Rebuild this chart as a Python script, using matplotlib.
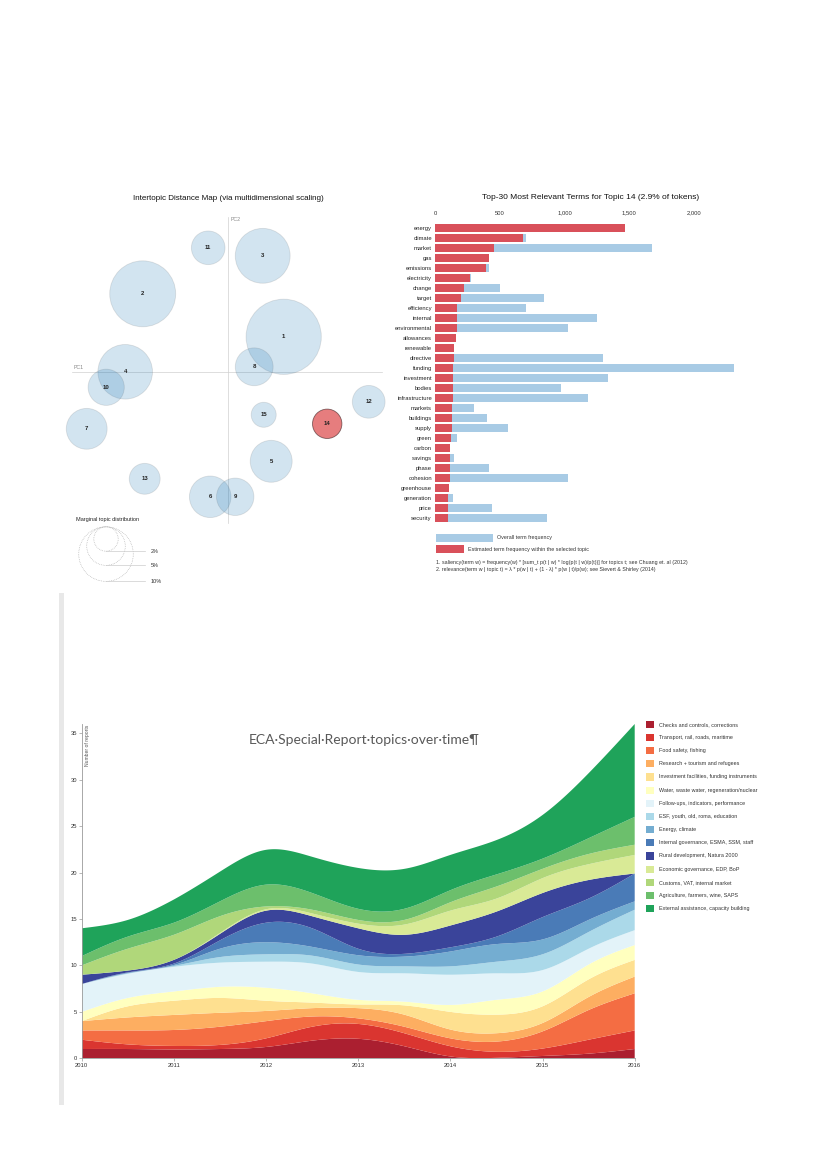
import numpy as np
import matplotlib
matplotlib.use("Agg")
import matplotlib.pyplot as plt
from matplotlib.patches import Circle, Rectangle

# ---------------- data: intertopic distance map ----------------
topic_ids = list(range(1, 16))
pc1 = [0.112, -0.170, 0.070, -0.205, 0.087, -0.035, -0.282, 0.053, 0.015, -0.243, -0.039, 0.282, -0.166, 0.199, 0.072]
pc2 = [0.071, 0.157, 0.233, 0.001, -0.178, -0.249, -0.113, 0.011, -0.249, -0.030, 0.249, -0.059, -0.213, -0.103, -0.085]
topic_share = [19.0, 14.6, 10.1, 10.0, 5.9, 5.8, 5.6, 4.8, 4.7, 4.4, 3.8, 3.6, 3.2, 2.9, 2.1]
selected_topic = 14
legend_shares = [2, 5, 10]

# ---------------- data: top-30 terms ----------------
terms = ['energy', 'climate', 'market', 'gas', 'emissions', 'electricity', 'change', 'target',
         'efficiency', 'internal', 'environmental', 'allowances', 'renewable', 'directive',
         'funding', 'investment', 'bodies', 'infrastructure', 'markets', 'buildings', 'supply',
         'green', 'carbon', 'savings', 'phase', 'cohesion', 'greenhouse', 'generation', 'price',
         'security']
overall_freq = [1470, 702, 1674, 418, 418, 281, 502, 843, 705, 1251, 1025, 159, 149, 1300,
                2307, 1333, 971, 1184, 305, 405, 567, 172, 118, 149, 420, 1025, 105, 138, 441, 864]
topic_freq = [1467, 677, 454, 415, 397, 274, 226, 203, 172, 172, 167, 159, 149, 144,
              138, 138, 136, 136, 128, 128, 128, 126, 118, 115, 113, 113, 105, 100, 97, 97]
bar_ticks = [0, 500, 1000, 1500, 2000]
bar_tick_labels = ['0', '500', '1,000', '1,500', '2,000']

# ---------------- data: topics over time ----------------
years = [2010, 2010.5, 2011, 2011.5, 2012, 2012.5, 2013, 2013.5, 2014, 2014.5, 2015, 2015.5, 2016]
checks     = [1.0, 1.0, 0.95, 1.0, 1.22, 1.9, 2.1, 1.3, 0.2, 0.05, 0.25, 0.5, 1.0]
transport  = [1.0, 0.5, 0.38, 0.44, 0.93, 1.5, 1.6, 1.4, 1.1, 0.65, 0.8, 1.5, 2.0]
food       = [1.0, 1.5, 1.72, 1.96, 1.85, 1.1, 0.6, 0.7, 0.85, 1.1, 1.85, 3.2, 4.0]
research   = [1.0, 1.4, 1.62, 1.5, 1.1, 0.9, 1.1, 1.3, 0.95, 0.9, 0.9, 1.4, 1.8]
investment = [0.0, 1.2, 1.53, 1.6, 1.1, 0.6, 0.4, 1.0, 1.9, 2.0, 1.8, 1.9, 1.8]
water      = [1.0, 0.9, 1.0, 1.2, 1.4, 1.0, 0.5, 0.4, 0.75, 1.6, 1.6, 1.6, 1.6]
followups  = [3.0, 2.6, 2.65, 2.6, 2.8, 3.2, 3.0, 3.05, 3.25, 2.85, 2.3, 1.7, 1.6]
esf        = [0.0, 0.05, 0.1, 0.6, 0.8, 0.85, 0.8, 0.75, 0.9, 1.25, 1.7, 1.8, 2.2]
energy     = [0.0, 0.05, 0.1, 0.9, 1.3, 0.95, 1.0, 1.05, 1.6, 1.9, 1.6, 1.3, 0.9]
internal   = [0.0, 0.05, 0.15, 0.9, 2.1, 2.0, 0.7, 0.3, 0.45, 0.8, 2.4, 2.3, 3.0]
rural      = [1.0, 0.2, 0.4, 0.7, 1.3, 1.3, 2.2, 2.05, 2.35, 2.7, 2.6, 2.0, 0.0]
economic   = [0.0, 0.0, 0.0, 0.1, 0.15, 0.3, 0.5, 1.1, 1.6, 1.4, 1.6, 1.7, 2.0]
customs    = [1.0, 2.35, 2.7, 1.8, 0.3, 0.4, 0.4, 0.5, 0.9, 1.3, 1.0, 1.1, 1.1]
agriculture= [1.0, 1.3, 1.3, 1.6, 2.35, 1.8, 1.2, 1.2, 1.3, 1.3, 1.1, 1.7, 3.0]
external   = [3.0, 1.8, 2.5, 3.2, 3.75, 3.9, 4.4, 4.3, 3.8, 3.7, 4.7, 7.0, 10.0]
series = [checks, transport, food, research, investment, water, followups, esf, energy,
          internal, rural, economic, customs, agriculture, external]
series_names = ['Checks and controls, corrections', 'Transport, rail, roads, maritime',
                'Food safety, fishing', 'Research + tourism and refugees',
                'Investment facilities, funding instruments',
                'Water, waste water, regeneration/nuclear', 'Follow-ups, indicators, performance',
                'ESF, youth, old, roma, education', 'Energy, climate',
                'Internal governance, ESMA, SSM, staff', 'Rural development, Natura 2000',
                'Economic governance, EDP, BoP', 'Customs, VAT, internal market',
                'Agriculture, farmers, wine, SAPS', 'External assistance, capacity building']
series_colors = ['#ab1f30', '#da3530', '#f46d43', '#fdae61', '#fee090', '#ffffbf', '#e3f3f9',
                 '#abd9e9', '#74add1', '#4a7bb7', '#3a449a', '#d9ea96', '#b0d77a', '#6cbf6c',
                 '#1fa35a']

W, H = 827, 1169
fig = plt.figure(figsize=(W / 100, H / 100), dpi=100)
fig.patch.set_facecolor('white')
FONT = ['Liberation Sans', 'DejaVu Sans']


def add_ax(x0, y0, x1, y1):
    return fig.add_axes([x0 / W, 1 - y1 / H, (x1 - x0) / W, (y1 - y0) / H])


def rect_px(x0, y0, x1, y1, color):
    fig.add_artist(Rectangle((x0 / W, 1 - y1 / H), (x1 - x0) / W, (y1 - y0) / H,
                             transform=fig.transFigure, facecolor=color, edgecolor='none'))


def ftext(x, y, s, **kw):
    kw.setdefault('family', FONT)
    fig.text(x / W, 1 - y / H, s, **kw)


# ================= Intertopic distance map =================
axb = add_ax(62, 212, 392, 595)
axb.set_xlim(-0.3314, 0.3286)
axb.set_ylim(-0.4454, 0.3206)
axb.axis('off')
k_r = 0.01726
axb.plot([-0.311, 0.309], [0, 0], color='#d0d0d0', lw=0.5, zorder=0)
axb.plot([0, 0], [-0.301, 0.311], color='#d0d0d0', lw=0.5, zorder=0)
axb.text(-0.309, 0.004, 'PC1', fontsize=3.8, color='#888', ha='left', va='bottom', family=FONT)
axb.text(0.006, 0.306, 'PC2', fontsize=3.8, color='#888', ha='left', va='center', family=FONT)
for tid, x, y, s in zip(topic_ids, pc1, pc2, topic_share):
    r = k_r * np.sqrt(s)
    if tid == selected_topic:
        fc, ec = (0.84, 0.15, 0.16, 0.6), (0.2, 0.1, 0.1, 0.6)
    else:
        fc, ec = (0.12, 0.47, 0.71, 0.2), (0.3, 0.3, 0.3, 0.15)
    axb.add_patch(Circle((x, y), r, facecolor=fc, edgecolor=ec, lw=0.6))
    axb.text(x, y, str(tid), ha='center', va='center', fontsize=4.3, fontweight='bold',
             color='#222', family=FONT)
# legend of circle sizes
axb.text(-0.3034, -0.2954, 'Marginal topic distribution', fontsize=4.0, color='#222',
         ha='left', va='center', family=FONT)
cx, top = -0.2434, -0.309
for s in legend_shares:
    r = k_r * np.sqrt(s)
    axb.add_patch(Circle((cx, top - r), r, fill=False, edgecolor='#aaaaaa', lw=0.5,
                         linestyle=(0, (1, 1.5))))
    axb.plot([cx, -0.1654], [top - 2 * r, top - 2 * r], color='#cccccc', lw=0.5)
    axb.text(-0.1534, top - 2 * r, f'{s}%', fontsize=4.0, color='#333', ha='left',
             va='center', family=FONT)

ftext(228, 198.3, 'Intertopic Distance Map (via multidimensional scaling)', ha='center',
      va='center', fontsize=5.8, color='#111')

# ================= Top-30 terms bar chart =================
axr = add_ax(435, 222.7, 745.8, 522.7)
ypos = np.arange(len(terms))
axr.barh(ypos, overall_freq, height=0.8, color='#a8cbe5')
axr.barh(ypos, topic_freq, height=0.8, color='#d9505a')
axr.set_xlim(0, 2400)
axr.set_ylim(len(terms) - 0.5, -0.5)
for sp in axr.spines.values():
    sp.set_visible(False)
axr.xaxis.tick_top()
axr.set_xticks(bar_ticks)
axr.set_xticklabels(bar_tick_labels, fontsize=4.2, color='#333', family=FONT)
axr.set_yticks(ypos)
axr.set_yticklabels(terms, fontsize=4.2, color='#222', family=FONT)
axr.tick_params(axis='x', length=0, pad=5)
axr.tick_params(axis='y', length=0, pad=2.2)

ftext(590.5, 197.3, 'Top-30 Most Relevant Terms for Topic 14 (2.9% of tokens)', ha='center',
      va='center', fontsize=6.0, color='#111')
rect_px(435.7, 534.3, 493.3, 541.7, '#a8cbe5')
rect_px(435.7, 545.0, 464.3, 553.3, '#d9505a')
ftext(497, 538, 'Overall term frequency', fontsize=3.9, va='center', color='#333')
ftext(468, 549.2, 'Estimated term frequency within the selected topic', fontsize=3.9,
      va='center', color='#333')
ftext(435.7, 562.7, '1. saliency(term w) = frequency(w) * [sum_t p(t | w) * log(p(t | w)/p(t))] '
      'for topics t; see Chuang et. al (2012)', fontsize=3.75, va='center', color='#333')
ftext(435.7, 569.6, '2. relevance(term w | topic t) = \u03bb * p(w | t) + (1 - \u03bb) * '
      'p(w | t)/p(w); see Sievert & Shirley (2014)', fontsize=3.75, va='center', color='#333')

# ================= page bar =================
rect_px(59, 593, 64, 1105, '#e8e8e8')


# ================= streams over time =================
def natural_spline(x, y, xn):
    x = np.asarray(x, float)
    y = np.asarray(y, float)
    n = len(x)
    h = np.diff(x)
    d = np.diff(y) / h
    A = np.zeros((n, n))
    b = np.zeros(n)
    A[0, 0] = 1.0
    A[-1, -1] = 1.0
    for i in range(1, n - 1):
        A[i, i - 1] = h[i - 1]
        A[i, i] = 2 * (h[i - 1] + h[i])
        A[i, i + 1] = h[i]
        b[i] = 6 * (d[i] - d[i - 1])
    M = np.linalg.solve(A, b)
    idx = np.clip(np.searchsorted(x, xn) - 1, 0, n - 2)
    hi = h[idx]
    a = x[idx + 1] - xn
    c = xn - x[idx]
    out = (M[idx] * a ** 3 / (6 * hi) + M[idx + 1] * c ** 3 / (6 * hi)
           + (y[idx] / hi - M[idx] * hi / 6) * a + (y[idx + 1] / hi - M[idx + 1] * hi / 6) * c)
    return np.clip(out, 0, None)


axs = add_ax(81.7, 724.0, 634.7, 1058.3)
xs = np.linspace(years[0], years[-1], 600)
smooth = [natural_spline(years, s, xs) for s in series]
axs.stackplot(xs, *smooth, colors=series_colors, linewidth=0, antialiased=True)
axs.set_xlim(2010, 2016)
axs.set_ylim(0, 36)
axs.set_yticks(range(0, 36, 5))
axs.set_xticks(range(2010, 2017))
for sp in ['top', 'right']:
    axs.spines[sp].set_visible(False)
for sp in ['left', 'bottom']:
    axs.spines[sp].set_color('#9a9a9a')
    axs.spines[sp].set_linewidth(0.6)
axs.tick_params(axis='both', labelsize=4.2, length=2, width=0.5, color='#9a9a9a',
                labelcolor='#333', pad=1.5)
for lab in axs.get_xticklabels() + axs.get_yticklabels():
    lab.set_family(FONT)
ftext(87, 725, 'Number of reports', rotation=90, ha='center', va='top', fontsize=3.6,
      color='#555')
ftext(364, 739.5, 'ECA\u00b7Special\u00b7Report\u00b7topics\u00b7over\u00b7time\u00b6', ha='center',
      va='center', fontsize=10, color='#595959', family=['Lato', 'DejaVu Sans'])

for i, (name, col) in enumerate(zip(series_names, series_colors)):
    yc = 724.3 + i * 13.17
    rect_px(646.3, yc - 3.6, 653.6, yc + 3.6, col)
    ftext(659, yc, name, va='center', fontsize=3.9, color='#333')

fig.savefig('out.png', dpi=100, facecolor='white')
